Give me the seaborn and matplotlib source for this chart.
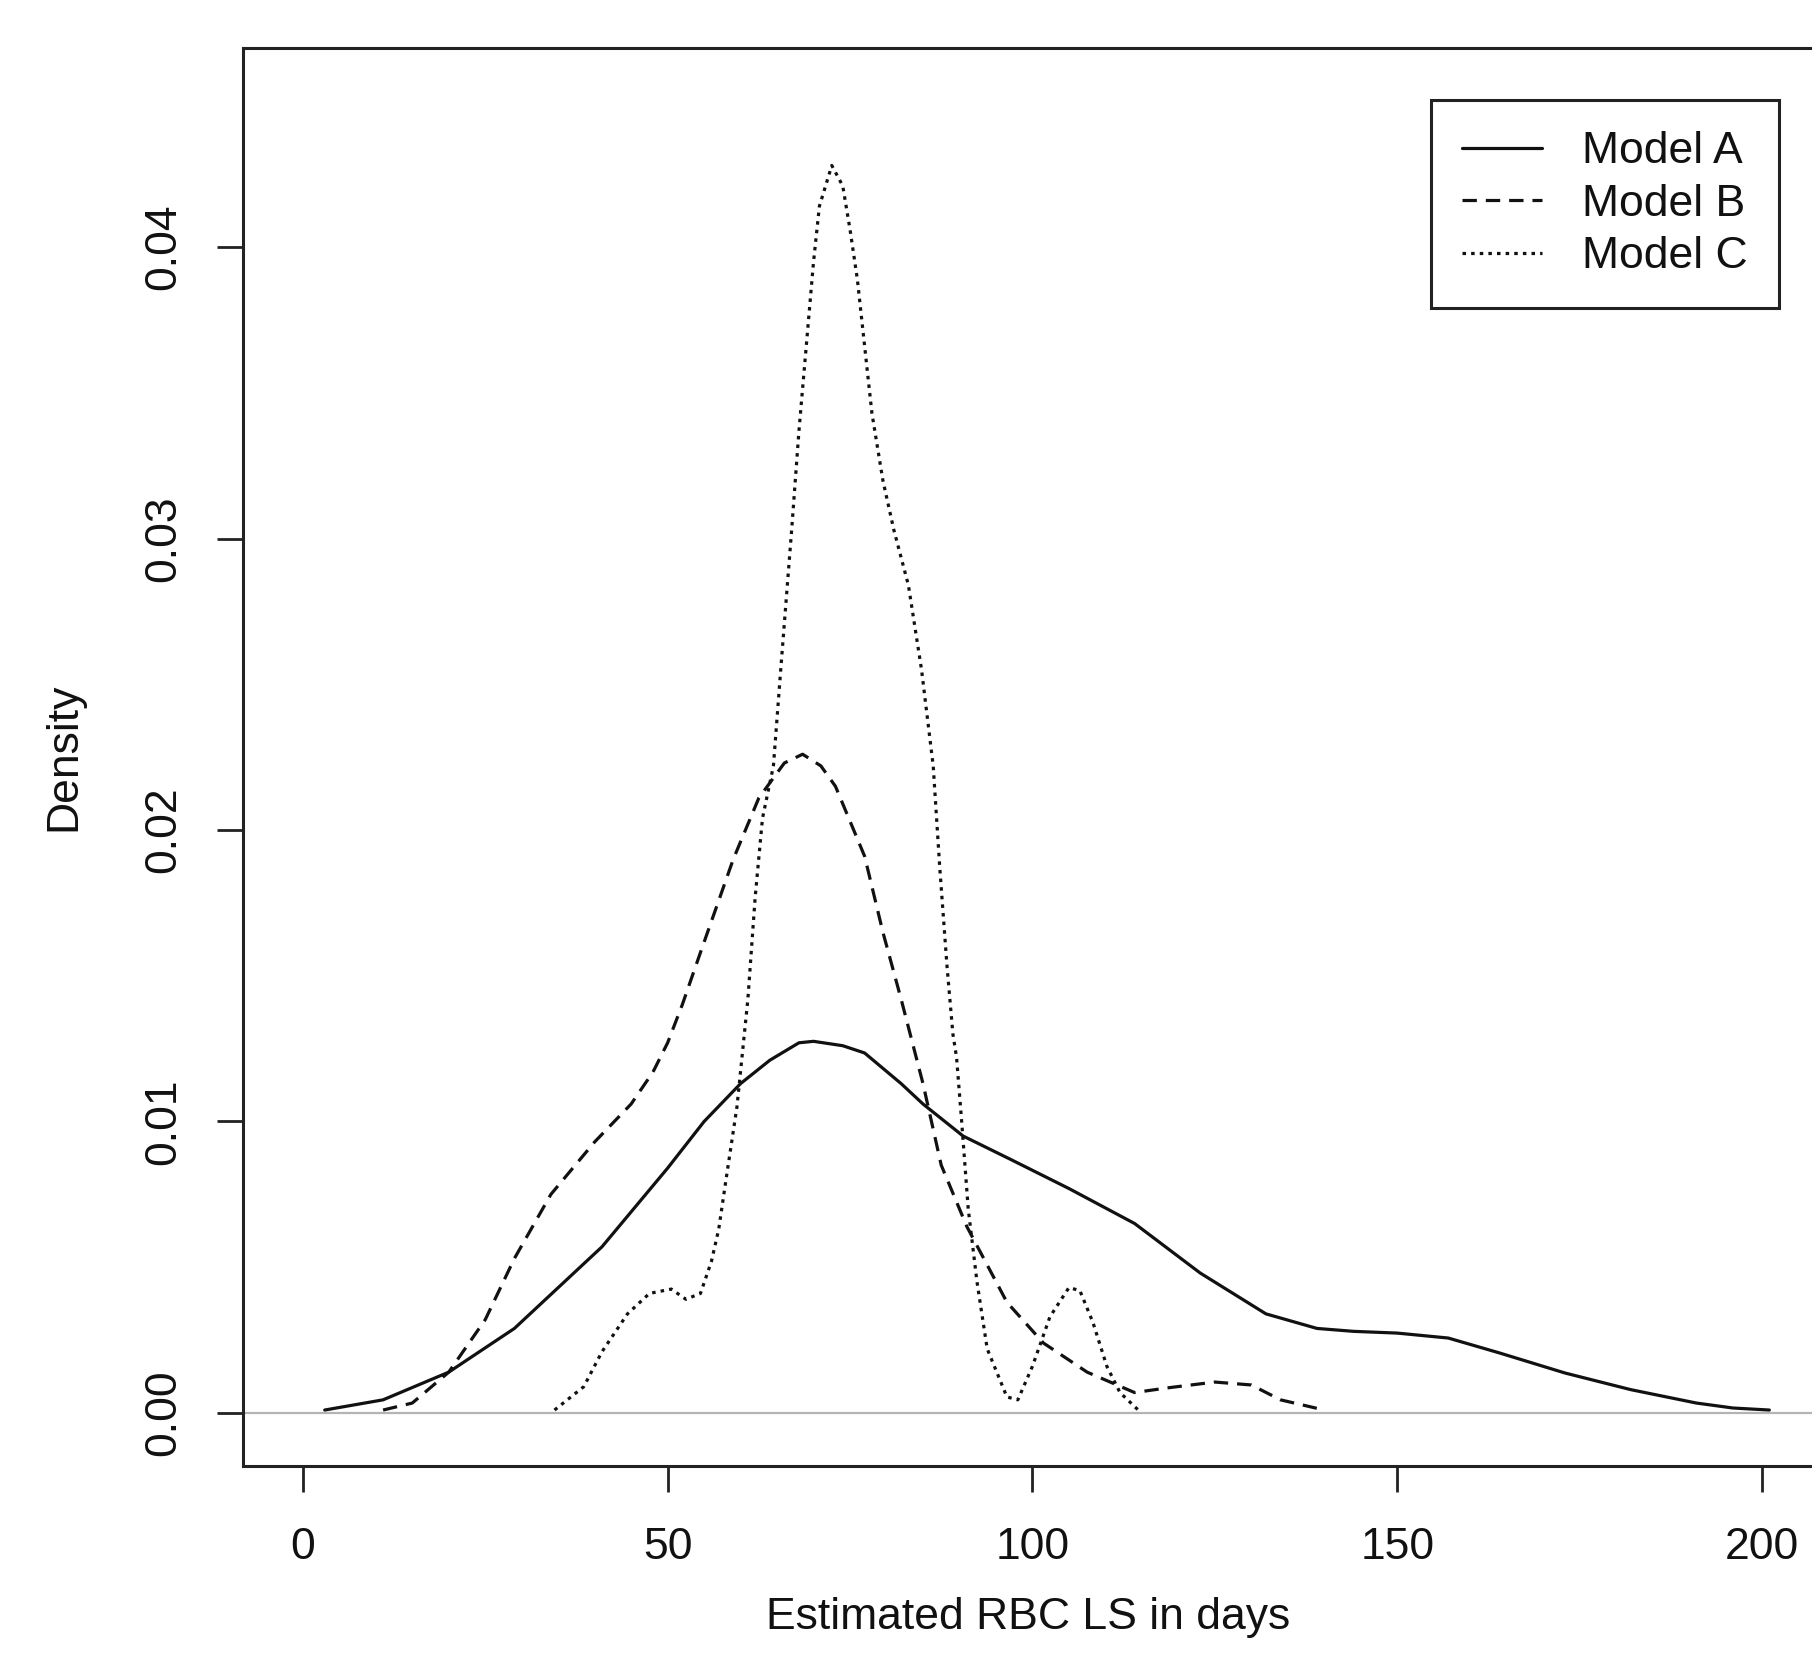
import numpy as np
import pandas as pd
import matplotlib
matplotlib.use("Agg")
import matplotlib.pyplot as plt
import seaborn as sns

model_names = ["Model A", "Model B", "Model C"]

# curve points (days, density)
days_a = [3, 11, 20, 29, 41, 50, 55, 60, 64, 68, 70, 74, 77, 82, 85, 90.5, 97, 105, 114,
          123, 132, 139, 144, 150, 157, 164, 173, 182, 191, 196, 201]
dens_a = [0.0001, 0.00045, 0.0014, 0.0029, 0.0057, 0.0084, 0.0100, 0.0113, 0.0121,
          0.0127, 0.01275, 0.0126, 0.01235, 0.0113, 0.0106, 0.0095, 0.0087, 0.0077,
          0.0065, 0.0048, 0.0034, 0.0029, 0.0028, 0.00274, 0.00257, 0.00206, 0.00137,
          0.0008, 0.00034, 0.00017, 0.0001]

days_b = [11, 15, 20, 25, 29, 34, 40, 45, 48, 50, 52, 54.5, 59, 62.5, 66, 68.5, 71,
          73, 77, 79.5, 82, 85, 87.5, 91, 96.5, 101.5, 107.5, 114, 118.5, 125, 130,
          134, 140]
dens_b = [0.0001, 0.00034, 0.0014, 0.0032, 0.0053, 0.0075, 0.0093, 0.0106, 0.0117,
          0.0127, 0.0140, 0.0158, 0.0190, 0.0211, 0.0223, 0.0226, 0.0222, 0.0215,
          0.0191, 0.0165, 0.0142, 0.0113, 0.0085, 0.0064, 0.0038, 0.0024, 0.0014,
          0.0007, 0.00086, 0.00106, 0.00096, 0.00045, 0.0001]

days_c = [34.5, 38.5, 41, 44.5, 47.5, 50.5, 52.5, 54.5, 56, 57, 58, 59.5, 61, 62, 63,
          64.5, 65.5, 67, 68, 69, 70, 70.8, 72.5, 74, 75, 76, 77, 78, 79.5, 81, 83,
          84.8, 86.4, 87.3, 88.3, 89.1, 89.6, 90.3, 91.2, 92.4, 93.8, 96.5, 98, 100,
          102.4, 105, 106.5, 108.3, 110.2, 112, 114.5]
dens_c = [0.0001, 0.0009, 0.0021, 0.0034, 0.0041, 0.00425, 0.0039, 0.0041, 0.0052,
          0.0063, 0.0080, 0.0105, 0.0142, 0.0177, 0.0204, 0.0222, 0.0255, 0.0303,
          0.0337, 0.0366, 0.0395, 0.0414, 0.0428, 0.0421, 0.0406, 0.0389, 0.0366,
          0.0343, 0.0320, 0.0303, 0.0284, 0.0255, 0.0222, 0.0187, 0.0153, 0.0130,
          0.0122, 0.0100, 0.0070, 0.0045, 0.0022, 0.00055, 0.00045, 0.0016, 0.0033,
          0.0043, 0.0042, 0.0031, 0.0016, 0.0007, 0.0001]

x_ticks = [0, 50, 100, 150, 200]
y_ticks = [0.00, 0.01, 0.02, 0.03, 0.04]
y_tick_labels = ["0.00", "0.01", "0.02", "0.03", "0.04"]

sns.set_style("white")
plt.rcParams["font.family"] = ["Liberation Sans", "DejaVu Sans"]

frames = []
for name, xs, ys in zip(model_names, [days_a, days_b, days_c], [dens_a, dens_b, dens_c]):
    frames.append(pd.DataFrame({"days": xs, "density": ys, "model": name}))
df = pd.concat(frames, ignore_index=True)

W, H = 1812, 1673
fig = plt.figure(figsize=(W / 100, H / 100), dpi=100)
ax = fig.add_axes([243 / W, (H - 1466) / H, (1835 - 243) / W, (1466 - 48) / H])

ax.axhline(0, color="#b4b4b4", linewidth=1.6, zorder=1)

sns.lineplot(data=df, x="days", y="density", style="model", style_order=model_names,
             dashes={"Model A": "", "Model B": (4.5, 2.8), "Model C": (1.1, 1.6)},
             color="#111111", linewidth=2.3, sort=False, estimator=None,
             legend=False, ax=ax, zorder=3)

ax.set_xlim(-8.2, 210.0)
ax.set_ylim(-0.00182, 0.04683)
ax.set_xticks(x_ticks)
ax.set_xticklabels([str(t) for t in x_ticks])
ax.set_yticks(y_ticks)
ax.set_yticklabels(y_tick_labels)
plt.setp(ax.get_yticklabels(), rotation=90, va="center")

ax.tick_params(axis="both", direction="out", length=19, width=2, color="#222222",
               labelsize=32, labelcolor="#111111", bottom=True, left=True)
ax.tick_params(axis="x", pad=25)
ax.tick_params(axis="y", pad=23)

for sp in ax.spines.values():
    sp.set_visible(True)
    sp.set_linewidth(2.2)
    sp.set_color("#222222")

ax.set_xlabel("Estimated RBC LS in days", fontsize=32, color="#111111")
ax.set_ylabel("Density", fontsize=32, color="#111111")
ax.xaxis.label.set_va("center")
ax.yaxis.label.set_va("center")
ax.xaxis.set_label_coords((1028 - 243) / (1835 - 243), (1466 - 1618) / (1466 - 48))
ax.yaxis.set_label_coords((64 - 243) / (1835 - 243), 0.5)

leg = ax.legend(handles=ax.get_lines()[1:4], labels=model_names, loc="upper left",
                bbox_to_anchor=(1431 / W, 1 - 100 / H), bbox_transform=fig.transFigure,
                fontsize=32, frameon=True, fancybox=False, edgecolor="#222222",
                framealpha=1, borderpad=0.7, labelspacing=0.26, handlelength=1.8,
                handletextpad=0.9, borderaxespad=0)
leg.get_frame().set_linewidth(2.2)
for t in leg.get_texts():
    t.set_color("#111111")

fig.savefig("out.png", dpi=100)
